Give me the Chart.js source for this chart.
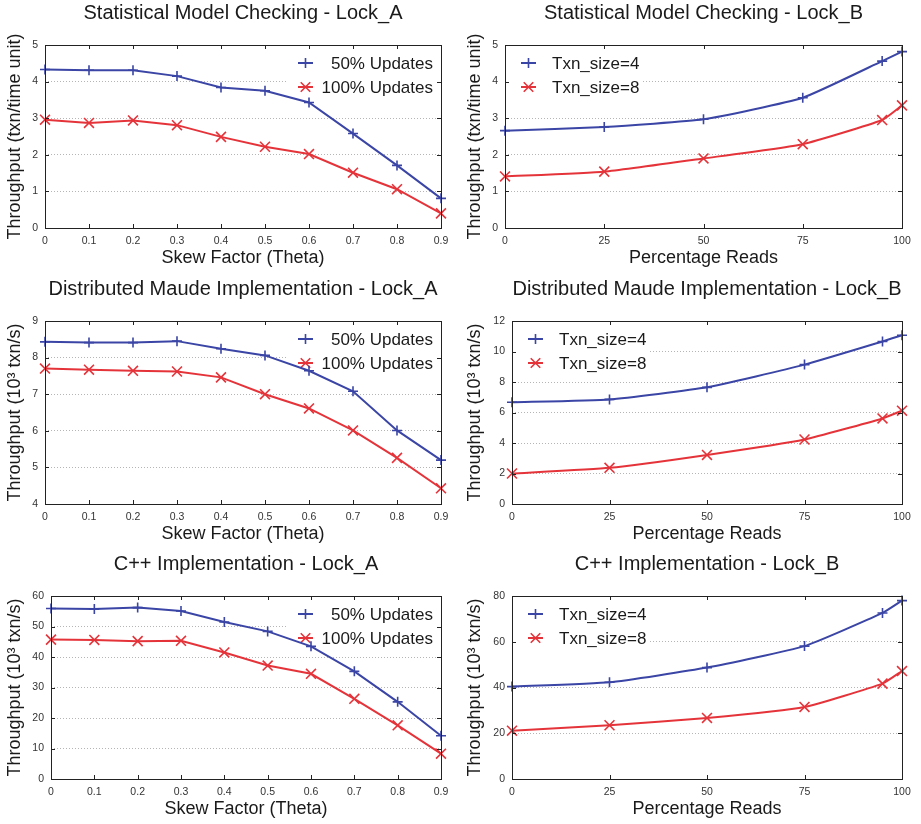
<!DOCTYPE html>
<html>
<head>
<meta charset="utf-8">
<script src="https://cdn.jsdelivr.net/npm/chart.js@4.4.1/dist/chart.umd.min.js"></script>
<style>
  html, body { margin: 0; padding: 0; background: #fff; }
  #page { position: relative; width: 921px; height: 824px; background: #fff; }
  #page canvas { position: absolute; }
</style>
</head>
<body>
<div id="page">
  <canvas id="smcA" width="460" height="275" style="left:0;top:0"></canvas>
  <canvas id="smcB" width="461" height="275" style="left:460px;top:0"></canvas>
  <canvas id="dmA" width="460" height="275" style="left:0;top:276px"></canvas>
  <canvas id="dmB" width="461" height="275" style="left:460px;top:276px"></canvas>
  <canvas id="cppA" width="460" height="275" style="left:0;top:551px"></canvas>
  <canvas id="cppB" width="461" height="275" style="left:460px;top:551px"></canvas>
</div>
<script>
// x values
const thetaValues = [0, 0.1, 0.2, 0.3, 0.4, 0.5, 0.6, 0.7, 0.8, 0.9];
const readPercent = [0, 25, 50, 75, 95, 100];

// tick labels
const thetaTicks = [0, 0.1, 0.2, 0.3, 0.4, 0.5, 0.6, 0.7, 0.8, 0.9];
const thetaTickLabels = ['0', '0.1', '0.2', '0.3', '0.4', '0.5', '0.6', '0.7', '0.8', '0.9'];
const readTicks = [0, 25, 50, 75, 100];
const smcTicks = [0, 1, 2, 3, 4, 5];
const dmATicks = [4, 5, 6, 7, 8, 9];
const dmBTicks = [0, 2, 4, 6, 8, 10, 12];
const cppATicks = [0, 10, 20, 30, 40, 50, 60];
const cppBTicks = [0, 20, 40, 60, 80];

// legend labels
const updateLabels = ['50% Updates', '100% Updates'];
const sizeLabels = ['Txn_size=4', 'Txn_size=8'];

// Statistical Model Checking
const smcA50 = [4.33, 4.31, 4.31, 4.15, 3.84, 3.75, 3.43, 2.58, 1.71, 0.81];
const smcA100 = [2.96, 2.87, 2.94, 2.81, 2.49, 2.22, 2.02, 1.51, 1.06, 0.40];
const smcB4 = [2.66, 2.76, 2.97, 3.56, 4.56, 4.82];
const smcB8 = [1.41, 1.54, 1.90, 2.29, 2.95, 3.35];

// Distributed Maude
const dmA50 = [8.43, 8.41, 8.41, 8.45, 8.24, 8.06, 7.64, 7.08, 6.01, 5.20];
const dmA100 = [7.70, 7.67, 7.64, 7.62, 7.46, 7.00, 6.61, 6.01, 5.26, 4.43];
const dmB4 = [6.67, 6.86, 7.65, 9.14, 10.66, 11.07];
const dmB8 = [2.00, 2.37, 3.22, 4.23, 5.61, 6.12];

// C++
const cppA50 = [55.9, 55.7, 56.2, 55.1, 51.5, 48.4, 43.5, 35.3, 25.3, 14.2];
const cppA100 = [45.7, 45.6, 45.2, 45.3, 41.5, 37.2, 34.5, 26.3, 17.6, 8.3];
const cppB4 = [40.4, 42.3, 48.7, 58.1, 72.6, 78.0];
const cppB8 = [21.1, 23.5, 26.7, 31.5, 41.7, 47.2];

const BLUE = '#3a45a5';
const RED = '#e5333a';
const FONT = "'Liberation Sans', Arial, Helvetica, sans-serif";

function drawMark(ctx, style, x, y, r) {
    ctx.beginPath();
    if (style === 'cross') {
        ctx.moveTo(x - r, y); ctx.lineTo(x + r, y);
        ctx.moveTo(x, y - r); ctx.lineTo(x, y + r);
    } else {
        const d = r * 0.95;
        ctx.moveTo(x - d, y - d); ctx.lineTo(x + d, y + d);
        ctx.moveTo(x - d, y + d); ctx.lineTo(x + d, y - d);
    }
    ctx.stroke();
}

// legend inside the plot + gnuplot-like box with inward ticks
const framePlugin = {
    id: 'frame',
    beforeDatasetsDraw(chart, args, opts) {
        const { ctx, chartArea: a } = chart;
        const sets = chart.data.datasets;
        ctx.save();
        ctx.font = '17px ' + FONT;
        const widest = Math.max(...sets.map(d => ctx.measureText(d.label).width));
        ctx.fillStyle = '#fff';
        if (opts.side === 'right') {
            ctx.fillRect(a.right - 154, a.top + 1, 153, 54);
        } else {
            ctx.fillRect(a.left + 1, a.top + 1, 47 + widest + 2, 54);
        }
        sets.forEach((d, i) => {
            const y = a.top + 18 + i * 24;
            let x0, textX;
            if (opts.side === 'right') {
                x0 = a.right - 143;
                textX = a.right - 8;
                ctx.textAlign = 'right';
            } else {
                x0 = a.left + 16;
                textX = a.left + 47;
                ctx.textAlign = 'left';
            }
            ctx.strokeStyle = d.borderColor;
            ctx.lineWidth = 2;
            ctx.beginPath();
            ctx.moveTo(x0, y);
            ctx.lineTo(x0 + 15, y);
            ctx.stroke();
            ctx.lineWidth = 1.6;
            drawMark(ctx, d.pointStyle, x0 + 7.5, y, 5);
            ctx.fillStyle = '#1a1a1a';
            ctx.textBaseline = 'middle';
            ctx.fillText(d.label, textX, y + 1);
        });
        ctx.restore();
    },
    afterDatasetsDraw(chart) {
        const { ctx, chartArea: a, scales } = chart;
        ctx.save();
        ctx.strokeStyle = '#222';
        ctx.lineWidth = 1;
        ctx.strokeRect(Math.round(a.left) + 0.5, Math.round(a.top) + 0.5,
            Math.round(a.right - a.left), Math.round(a.bottom - a.top));
        ctx.beginPath();
        scales.x.ticks.forEach(t => {
            const px = Math.round(scales.x.getPixelForValue(t.value)) + 0.5;
            ctx.moveTo(px, a.bottom); ctx.lineTo(px, a.bottom - 4);
            ctx.moveTo(px, a.top); ctx.lineTo(px, a.top + 4);
        });
        scales.y.ticks.forEach(t => {
            const py = Math.round(scales.y.getPixelForValue(t.value)) + 0.5;
            ctx.moveTo(a.left, py); ctx.lineTo(a.left + 4, py);
            ctx.moveTo(a.right, py); ctx.lineTo(a.right - 4, py);
        });
        ctx.stroke();
        ctx.restore();
    }
};

function series(xs, ys, label, color, style, tension) {
    return {
        label: label,
        data: xs.map((x, i) => ({ x: x, y: ys[i] })),
        borderColor: color,
        backgroundColor: color,
        borderWidth: 2,
        pointStyle: style,
        pointRadius: style === 'cross' ? 5 : 7,
        pointBorderWidth: 1.6,
        pointBorderColor: color,
        tension: tension,
        clip: false
    };
}

function makeChart(id, cfg) {
    const xTicks = cfg.xTicks;
    const yTicks = cfg.yTicks;
    return new Chart(document.getElementById(id), {
        type: 'line',
        data: { datasets: cfg.datasets },
        plugins: [framePlugin],
        options: {
            responsive: false,
            animation: false,
            events: [],
            layout: { padding: { left: 0, right: 19, top: 0, bottom: 0 } },
            scales: {
                x: {
                    type: 'linear',
                    min: xTicks[0],
                    max: xTicks[xTicks.length - 1],
                    afterBuildTicks: s => { s.ticks = xTicks.map(v => ({ value: v })); },
                    afterFit: s => { s.height = 47; },
                    grid: { display: false, drawTicks: false },
                    border: { display: false },
                    ticks: {
                        padding: 7,
                        maxRotation: 0,
                        autoSkip: false,
                        color: '#333',
                        font: { family: FONT, size: 10.5 },
                        callback: (v, i) => cfg.xLabels ? cfg.xLabels[i] : String(v)
                    },
                    title: {
                        display: true,
                        text: cfg.xTitle,
                        color: '#1a1a1a',
                        font: { family: FONT, size: 18 },
                        padding: { top: 0, bottom: 6 }
                    }
                },
                y: {
                    min: yTicks[0],
                    max: yTicks[yTicks.length - 1],
                    afterBuildTicks: s => { s.ticks = yTicks.map(v => ({ value: v })); },
                    afterFit: s => { s.width = cfg.yWidth; },
                    grid: { color: '#b5b5b5', lineWidth: 1, drawTicks: false },
                    border: { display: false, dash: [1, 2] },
                    ticks: {
                        padding: 7,
                        color: '#333',
                        font: { family: FONT, size: 10.5 }
                    },
                    title: {
                        display: true,
                        text: cfg.yTitle,
                        color: '#1a1a1a',
                        font: { family: FONT, size: 18 },
                        padding: { top: 4, bottom: 0 }
                    }
                }
            },
            plugins: {
                legend: { display: false },
                tooltip: { enabled: false },
                frame: { side: cfg.legendSide },
                title: {
                    display: true,
                    text: cfg.title,
                    fullSize: false,
                    color: '#1a1a1a',
                    font: { family: FONT, size: 20, weight: 'normal' },
                    padding: { top: 1, bottom: 20 }
                }
            }
        }
    });
}

const skewTitle = 'Skew Factor (Theta)';
const readsTitle = 'Percentage Reads';
const unitTitle = 'Throughput (txn/time unit)';
const kiloTitle = 'Throughput (10\u00b3 txn/s)';

makeChart('smcA', {
    title: 'Statistical Model Checking - Lock_A',
    xTitle: skewTitle, yTitle: unitTitle, yWidth: 45, legendSide: 'right',
    xTicks: thetaTicks, xLabels: thetaTickLabels, yTicks: smcTicks,
    datasets: [
        series(thetaValues, smcA50, updateLabels[0], BLUE, 'cross', 0),
        series(thetaValues, smcA100, updateLabels[1], RED, 'crossRot', 0)
    ]
});

makeChart('smcB', {
    title: 'Statistical Model Checking - Lock_B',
    xTitle: readsTitle, yTitle: unitTitle, yWidth: 45, legendSide: 'left',
    xTicks: readTicks, yTicks: smcTicks,
    datasets: [
        series(readPercent, smcB4, sizeLabels[0], BLUE, 'cross', 0.15),
        series(readPercent, smcB8, sizeLabels[1], RED, 'crossRot', 0.15)
    ]
});

makeChart('dmA', {
    title: 'Distributed Maude Implementation - Lock_A',
    xTitle: skewTitle, yTitle: kiloTitle, yWidth: 45, legendSide: 'right',
    xTicks: thetaTicks, xLabels: thetaTickLabels, yTicks: dmATicks,
    datasets: [
        series(thetaValues, dmA50, updateLabels[0], BLUE, 'cross', 0),
        series(thetaValues, dmA100, updateLabels[1], RED, 'crossRot', 0)
    ]
});

makeChart('dmB', {
    title: 'Distributed Maude Implementation - Lock_B',
    xTitle: readsTitle, yTitle: kiloTitle, yWidth: 52, legendSide: 'left',
    xTicks: readTicks, yTicks: dmBTicks,
    datasets: [
        series(readPercent, dmB4, sizeLabels[0], BLUE, 'cross', 0.15),
        series(readPercent, dmB8, sizeLabels[1], RED, 'crossRot', 0.15)
    ]
});

makeChart('cppA', {
    title: 'C++ Implementation - Lock_A',
    xTitle: skewTitle, yTitle: kiloTitle, yWidth: 51, legendSide: 'right',
    xTicks: thetaTicks, xLabels: thetaTickLabels, yTicks: cppATicks,
    datasets: [
        series(thetaValues, cppA50, updateLabels[0], BLUE, 'cross', 0),
        series(thetaValues, cppA100, updateLabels[1], RED, 'crossRot', 0)
    ]
});

makeChart('cppB', {
    title: 'C++ Implementation - Lock_B',
    xTitle: readsTitle, yTitle: kiloTitle, yWidth: 52, legendSide: 'left',
    xTicks: readTicks, yTicks: cppBTicks,
    datasets: [
        series(readPercent, cppB4, sizeLabels[0], BLUE, 'cross', 0.15),
        series(readPercent, cppB8, sizeLabels[1], RED, 'crossRot', 0.15)
    ]
});
</script>
</body>
</html>
